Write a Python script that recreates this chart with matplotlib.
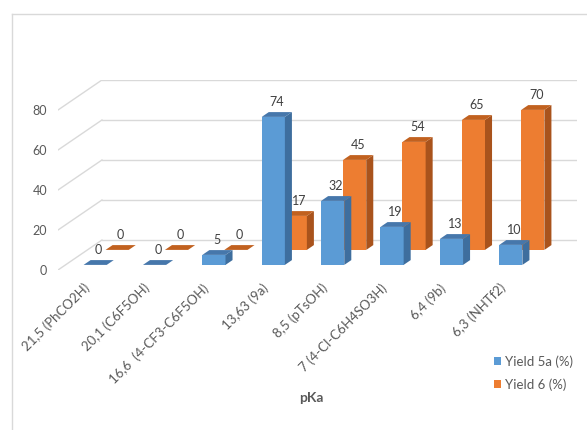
import matplotlib
matplotlib.use("Agg")
import matplotlib.pyplot as plt
from matplotlib.patches import Polygon, Patch

plt.rcParams['font.family'] = ['Lato', 'DejaVu Sans']

# datos
categories = ['21,5 (PhCO2H)', '20,1 (C6F5OH)', '16,6  (4-CF3-C6F5OH)', '13,63 (9a)',
              '8,5 (pTsOH)', '7 (4-Cl-C6H4SO3H)', '6,4 (9b)', '6,3 (NHTf2)']
yield_5a = [0, 0, 5, 74, 32, 19, 13, 10]
yield_6 = [0, 0, 0, 17, 45, 54, 65, 70]
y_ticks = [0, 20, 40, 60, 80]
series_names = ['Yield 5a (%)', 'Yield 6 (%)']

# proyeccion oblicua (profundidad d de 0 a 1)
DX = 0.74   # unidades de categoria
DY = 15.0   # unidades de valor
BAR_W = 0.39
THICK = 0.16

W, H = 587, 430
fig = plt.figure(figsize=(W / 100, H / 100), dpi=100)
ax = fig.add_axes([58 / W, 1 - 270 / H, 519 / W, 190 / H])
ax.set_xlim(0, len(categories) + DX)
ax.set_ylim(0, 80 + DY)
ax.axis('off')

grid_c = '#D9D9D9'
text_c = '#595959'
n = len(categories)

# pared trasera y lateral
for v in y_ticks:
    ax.plot([DX, n + DX], [v + DY, v + DY], color=grid_c, lw=1, zorder=1)
    ax.plot([0, DX], [v, v + DY], color=grid_c, lw=1, zorder=1)
    ax.annotate(str(v), (0, v), xytext=(-11, -1), textcoords='offset pixels',
                ha='right', va='center', fontsize=9, color=text_c)


def draw_bar(i, value, d0, front, side, top):
    c = i + 0.5 + d0 * DX
    b = d0 * DY
    x0, x1 = c - BAR_W / 2, c + BAR_W / 2
    tx, ty = THICK * DX, THICK * DY
    if value > 0:
        ax.add_patch(Polygon([(x0, b), (x1, b), (x1, b + value), (x0, b + value)],
                             closed=True, fc=front, ec='none', zorder=3))
        ax.add_patch(Polygon([(x1, b), (x1 + tx, b + ty), (x1 + tx, b + value + ty), (x1, b + value)],
                             closed=True, fc=side, ec='none', zorder=3))
    ax.add_patch(Polygon([(x0, b + value), (x1, b + value), (x1 + tx, b + value + ty), (x0 + tx, b + value + ty)],
                         closed=True, fc=top, ec='none', zorder=3))
    ax.annotate(str(value), (c + tx / 2, b + value + ty), xytext=(0, 10), textcoords='offset pixels',
                ha='center', va='center', fontsize=9, color='#404040', zorder=4)


# primero la serie de atras (naranja), luego la de adelante (azul)
for i, v in enumerate(yield_6):
    draw_bar(i, v, 0.67, '#ED7D31', '#A9531C', '#C1611F')
for i, v in enumerate(yield_5a):
    draw_bar(i, v, 0.17, '#5B9BD5', '#3E6E9E', '#4677AB')

# etiquetas de categoria
for i, lab in enumerate(categories):
    ax.annotate(lab, (i + 0.5, 0), xytext=(0, -16), textcoords='offset pixels',
                ha='right', va='center', rotation=45, rotation_mode='anchor',
                fontsize=9.5, color=text_c)

# borde del grafico
fig.add_artist(plt.Line2D([12 / W, 1], [1 - 14 / H, 1 - 14 / H], color=grid_c, lw=1))
fig.add_artist(plt.Line2D([12 / W, 12 / W], [0, 1 - 14 / H], color=grid_c, lw=1))

handles = [Patch(fc='#5B9BD5'), Patch(fc='#ED7D31')]
fig.legend(handles, series_names, loc='center left', bbox_to_anchor=(487 / W, 1 - 373 / H),
           frameon=False, fontsize=9.5, labelcolor=text_c, handlelength=0.55, handleheight=0.55,
           handletextpad=0.3, labelspacing=0.8, borderpad=0)

fig.text(311 / W, 1 - 398 / H, 'pKa', ha='center', va='center', fontsize=10,
         fontweight='bold', color=text_c)

fig.savefig('out.png', dpi=100)
